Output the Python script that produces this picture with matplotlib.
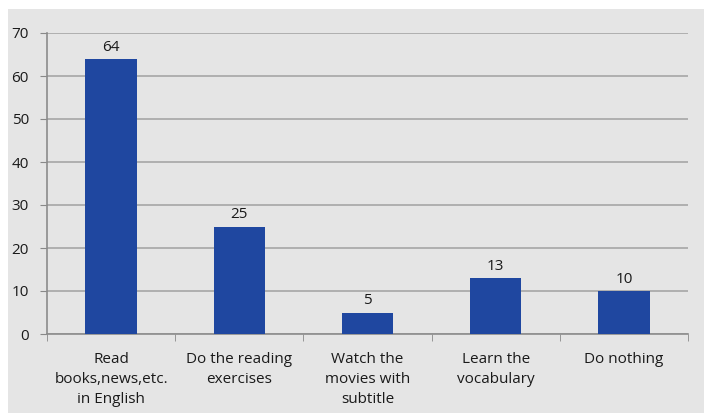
import matplotlib
matplotlib.use("Agg")
import matplotlib.pyplot as plt
from matplotlib.patches import Rectangle
import numpy as np

categories = ["Read\nbooks,news,etc.\nin English", "Do the reading\nexercises",
              "Watch the\nmovies with\nsubtitle", "Learn the\nvocabulary", "Do nothing"]
values = [64, 25, 5, 13, 10]
y_ticks = [0, 10, 20, 30, 40, 50, 60, 70]

plt.rcParams['font.family'] = ['Open Sans', 'DejaVu Sans']
plt.rcParams['font.weight'] = 500

W, H = 704, 413
fig = plt.figure(figsize=(W / 100, H / 100), dpi=100, facecolor="white")
bg = "#e5e5e5"
fig.patches.append(Rectangle((8 / W, 0), 1, (H - 9) / H, transform=fig.transFigure,
                             facecolor=bg, edgecolor="none", zorder=-10))

ax = fig.add_axes([47 / W, (H - 334) / H, (688 - 47) / W, (334 - 33) / H])
ax.set_zorder(1)
ax.set_facecolor("none")

txt = "#1a1a1a"
fs = 11

x = np.arange(len(categories))
bars = ax.bar(x, values, width=0.4, color="#1f47a0", zorder=3)
for xi, v in zip(x, values):
    ax.annotate(str(v), (xi, v), xytext=(0, 3), textcoords="offset points",
                ha="center", va="bottom", fontsize=fs, color=txt)

ax.set_xlim(-0.5, len(categories) - 0.5)
ax.set_ylim(0, 70)
ax.set_yticks(y_ticks)
ax.yaxis.grid(True, color="#a6a6a6", linewidth=1.2, zorder=0)
ax.set_axisbelow(True)

ax.set_xticks(x)
ax.set_xticklabels(categories, fontsize=fs, color=txt, linespacing=1.45)
ax.set_xticks(np.arange(-0.5, len(categories)), minor=True)
ax.tick_params(axis="x", which="major", length=0, pad=13)
ax.tick_params(axis="x", which="minor", length=5, color="#888888", direction="out")
ax.tick_params(axis="y", length=5, color="#888888", labelsize=fs, labelcolor=txt, pad=8)

for side in ["top", "right"]:
    ax.spines[side].set_visible(False)
for side in ["left", "bottom"]:
    ax.spines[side].set_color("#8c8c8c")
    ax.spines[side].set_linewidth(1.2)

fig.savefig("out.png", dpi=100, facecolor="white")
